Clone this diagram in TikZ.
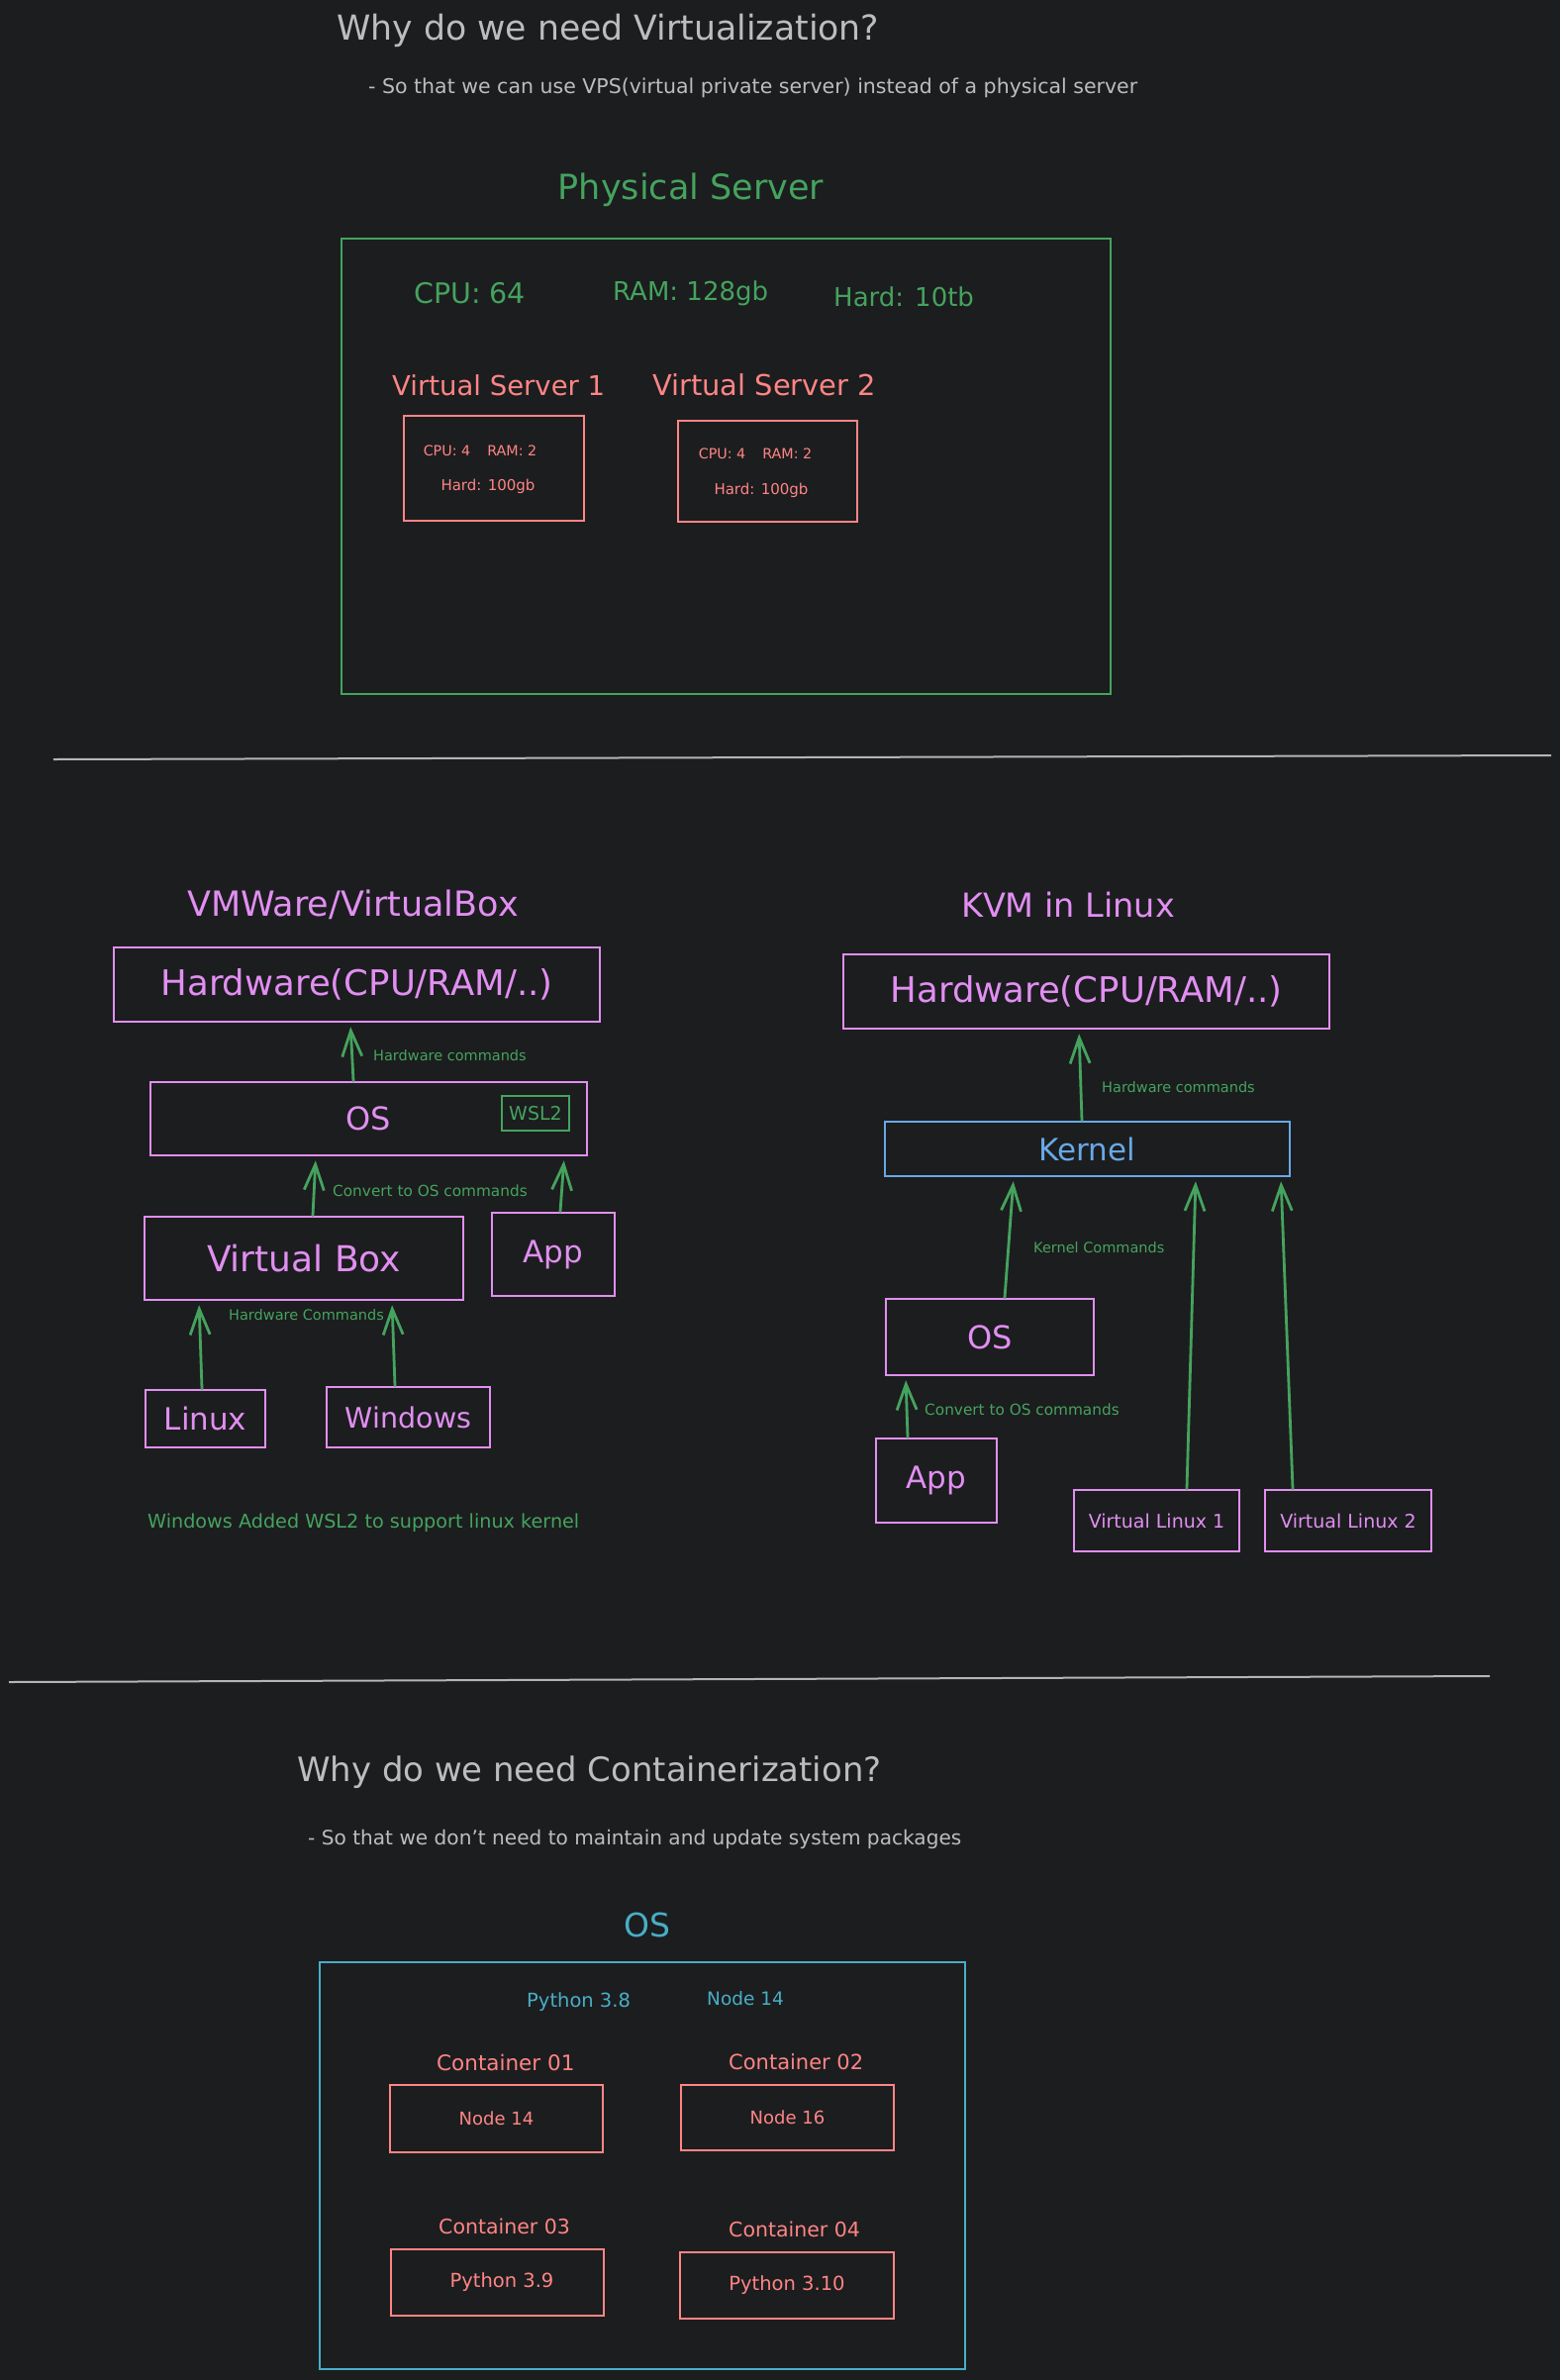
\documentclass[tikz,border=0pt]{standalone}
\usepackage{fontspec}
\setmainfont{DejaVu Sans}
\usetikzlibrary{arrows.meta}
\definecolor{bg}{HTML}{1C1D1F}
\definecolor{greytext}{HTML}{BDBDC0}
\definecolor{grn}{HTML}{45A35E}
\definecolor{salmon}{HTML}{FF8585}
\definecolor{violet}{HTML}{E18FF1}
\definecolor{kblue}{HTML}{68A9E6}
\definecolor{tealc}{HTML}{48AEC7}
\definecolor{sepline}{HTML}{B5B5B5}
\newcommand{\fsz}[1]{\fontsize{#1}{#1}\selectfont}
\begin{document}
\begin{tikzpicture}[x=1pt,y=-1pt,
  lbl/.style={inner sep=0pt, anchor=west},
  clbl/.style={inner sep=0pt},
  box/.style={draw, line width=2.5pt, inner sep=0pt},
  arr/.style={draw=grn, line width=2.8pt, line cap=round, line join=round,
    -{Straight Barb[length=26pt,width=20pt]}, shorten >=4pt},
]
\fill[bg] (0,0) rectangle (1576,2404);
\useasboundingbox (0,0) rectangle (1576,2404);

% ---------- Virtualization header ----------
\node[lbl, text=greytext, font=\fsz{34.7}] (t1) at (340,31) {Why do we need Virtualization?};
\node[lbl, text=greytext, font=\fsz{20.5}] (s1) at (372,89) {- So that we can use VPS(virtual private server) instead of a physical server};

% ---------- Physical server ----------
\node[clbl, text=grn, font=\fsz{35}] (pstitle) at (698,192) {Physical Server};
\node[box, draw=grn, minimum width=777pt, minimum height=460pt] (phys) at (733.5,471) {};
\node[lbl, text=grn, font=\fsz{28.5}] (cpu) at (418,296) {CPU: 64};
\node[lbl, text=grn, font=\fsz{26}] (ram) at (619,296) {RAM: 128gb};
\node[lbl, text=grn, font=\fsz{26}] (hard) at (842,300) {Hard: 10tb};

\node[lbl, text=salmon, font=\fsz{27.5}] (vs1t) at (396,389) {Virtual Server 1};
\node[lbl, text=salmon, font=\fsz{28.9}] (vs2t) at (659,389) {Virtual Server 2};
\node[box, draw=salmon, minimum width=182pt, minimum height=106pt] (vs1) at (499,473) {};
\node[box, draw=salmon, minimum width=181pt, minimum height=102pt] (vs2) at (775.5,476) {};
\node[clbl, text=salmon, font=\fsz{14.3}] (vs1a) at (485,455) {CPU: 4\hspace{17pt}RAM: 2};
\node[clbl, text=salmon, font=\fsz{15}] (vs1b) at (493,491) {Hard: 100gb};
\node[clbl, text=salmon, font=\fsz{14.3}] (vs2a) at (763,458) {CPU: 4\hspace{17pt}RAM: 2};
\node[clbl, text=salmon, font=\fsz{15}] (vs2b) at (769,495) {Hard: 100gb};

% separator 1
\draw[sepline, line width=2pt] (54,767) -- (1567,763);

% ---------- VMWare / VirtualBox ----------
\node[clbl, text=violet, font=\fsz{35}] (vmt) at (356.5,914) {VMWare/VirtualBox};
\node[box, draw=violet, text=violet, font=\fsz{35.5}, minimum width=491pt, minimum height=75pt] (hw1) at (360.5,994.5) {Hardware(CPU/RAM/..)};
\node[box, draw=violet, text=violet, font=\fsz{32}, minimum width=441pt, minimum height=74pt] (os1) at (372.5,1130) {OS};
\node[box, draw=grn, text=grn, font=\fsz{19}, minimum width=68pt, minimum height=35pt] (wsl) at (541,1124.5) {WSL2};
\node[box, draw=violet, text=violet, font=\fsz{36}, minimum width=322pt, minimum height=84pt] (vbox) at (307,1271) {Virtual Box};
\node[box, draw=violet, text=violet, font=\fsz{31}, minimum width=124pt, minimum height=84pt] (app1) at (559,1267) {App};
\node[box, draw=violet, text=violet, font=\fsz{31}, minimum width=121pt, minimum height=58pt] (linux) at (207.5,1433) {Linux};
\node[box, draw=violet, text=violet, font=\fsz{28.5}, minimum width=165pt, minimum height=61pt] (win) at (412.5,1431.5) {Windows};

\draw[arr] ([xshift=-15.5pt]os1.north) -- ([xshift=-6.5pt]hw1.south);
\draw[arr] ([xshift=9pt]vbox.north) -- ([xshift=-53.5pt]os1.south);
\draw[arr] ([xshift=7pt]app1.north) -- ([xshift=197.5pt]os1.south);
\draw[arr] ([xshift=-3.5pt]linux.north) -- ([xshift=-106pt]vbox.south);
\draw[arr] ([xshift=-13.5pt]win.north) -- ([xshift=89pt]vbox.south);

\node[lbl, text=grn, font=\fsz{14.5}] (l1) at (377,1066) {Hardware commands};
\node[lbl, text=grn, font=\fsz{15.3}] (l2) at (336,1203) {Convert to OS commands};
\node[lbl, text=grn, font=\fsz{14.5}] (l3) at (231,1328) {Hardware Commands};
\node[lbl, text=grn, font=\fsz{19.2}] (note) at (149,1538) {Windows Added WSL2 to support linux kernel};

% ---------- KVM ----------
\node[clbl, text=violet, font=\fsz{33.5}] (kvmt) at (1079,914) {KVM in Linux};
\node[box, draw=violet, text=violet, font=\fsz{35.5}, minimum width=491pt, minimum height=75pt] (hw2) at (1097.5,1001.5) {Hardware(CPU/RAM/..)};
\node[box, draw=kblue, text=kblue, font=\fsz{31}, minimum width=409pt, minimum height=55pt] (kern) at (1098.5,1160.5) {Kernel};
\node[box, draw=violet, text=violet, font=\fsz{32}, minimum width=210pt, minimum height=77pt] (os2) at (1000,1350.5) {OS};
\node[box, draw=violet, text=violet, font=\fsz{31}, minimum width=122pt, minimum height=85pt] (app2) at (946,1495.5) {App};
\node[box, draw=violet, text=violet, font=\fsz{19}, minimum width=167pt, minimum height=62pt] (vl1) at (1168.5,1536) {Virtual Linux 1};
\node[box, draw=violet, text=violet, font=\fsz{19}, minimum width=168pt, minimum height=62pt] (vl2) at (1362,1536) {Virtual Linux 2};

\draw[arr] ([xshift=-5.5pt]kern.north) -- ([xshift=-7.5pt]hw2.south);
\draw[arr] ([xshift=15pt]os2.north) -- ([xshift=-74.5pt]kern.south);
\draw[arr] ([xshift=-29pt]app2.north) -- ([xshift=-85pt]os2.south);
\draw[arr] ([xshift=30.5pt]vl1.north) -- ([xshift=109.5pt]kern.south);
\draw[arr] ([xshift=-56pt]vl2.north) -- ([xshift=195.5pt]kern.south);

\node[lbl, text=grn, font=\fsz{14.5}] (r1) at (1113,1098) {Hardware commands};
\node[lbl, text=grn, font=\fsz{14.5}] (r2) at (1044,1260) {Kernel Commands};
\node[lbl, text=grn, font=\fsz{15.3}] (r3) at (934,1424) {Convert to OS commands};

% separator 2
\draw[sepline, line width=2pt] (9,1699) -- (1505,1693);

% ---------- Containerization ----------
\node[lbl, text=greytext, font=\fsz{33.9}] (t2) at (300,1790) {Why do we need Containerization?};
\node[lbl, text=greytext, font=\fsz{20.1}] (s2) at (311,1858) {- So that we don't need to maintain and update system packages};
\node[clbl, text=tealc, font=\fsz{33}] (ost) at (654,1944) {OS};
\node[box, draw=tealc, minimum width=652pt, minimum height=411pt] (osc) at (649,2187.5) {};
\node[lbl, text=tealc, font=\fsz{19.5}] (py38) at (532,2022) {Python 3.8};
\node[lbl, text=tealc, font=\fsz{18.5}] (nd14) at (714,2019) {Node 14};

\node[lbl, text=salmon, font=\fsz{21.5}] (c1t) at (441,2083) {Container 01};
\node[lbl, text=salmon, font=\fsz{21}] (c2t) at (736,2083) {Container 02};
\node[lbl, text=salmon, font=\fsz{20.5}] (c3t) at (443,2249) {Container 03};
\node[lbl, text=salmon, font=\fsz{20.5}] (c4t) at (736,2252) {Container 04};
\node[box, draw=salmon, text=salmon, font=\fsz{18}, minimum width=215pt, minimum height=68pt] (c1) at (501.5,2140) {Node 14};
\node[box, draw=salmon, text=salmon, font=\fsz{18}, minimum width=215pt, minimum height=66pt] (c2) at (795.5,2139) {Node 16};
\node[box, draw=salmon, text=salmon, font=\fsz{19.5}, minimum width=215pt, minimum height=67pt] (c3) at (502.5,2305.5) {\hspace{9pt}Python 3.9};
\node[box, draw=salmon, text=salmon, font=\fsz{19.5}, minimum width=216pt, minimum height=67pt] (c4) at (795,2308.5) {Python 3.10};
\end{tikzpicture}
\end{document}
